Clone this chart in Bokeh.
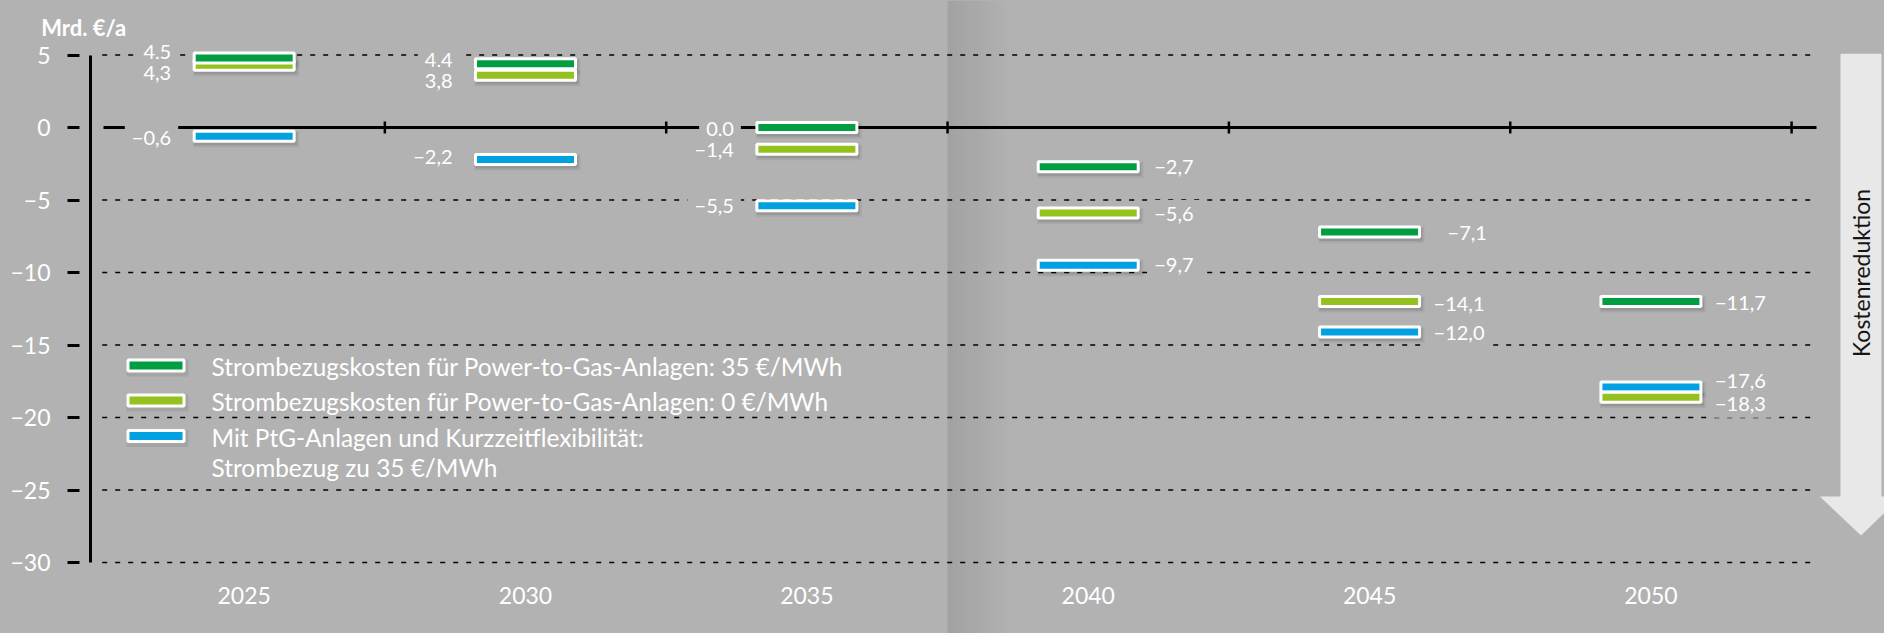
import math
from bokeh.plotting import figure
from bokeh.models import ColumnDataSource, Range1d, FixedTicker, LinearAxis, GlobalInlineStyleSheet
from bokeh.core.properties import value
from bokeh.transform import dodge
from bokeh.embed import file_html
from bokeh.resources import INLINE

# ---------------- data ----------------
years = ["2025", "2030", "2035", "2040", "2045", "2050"]
# bar positions (Mrd. EUR / a)
cost_ptg35 = [4.8, 4.4, 0.0, -2.7, -7.2, -12.0]
cost_ptg0 = [4.3, 3.6, -1.5, -5.9, -12.0, -18.6]
cost_flex35 = [-0.6, -2.2, -5.4, -9.5, -14.1, -17.9]
# value labels as printed in the picture
labels_ptg35 = ["4,5", "4,4", "0,0", "\u22122,7", "\u22127,1", "\u221211,7"]
labels_ptg0 = ["4,3", "3,8", "\u22121,4", "\u22125,6", "\u221214,1", "\u221218,3"]
labels_flex35 = ["\u22120,6", "\u22122,2", "\u22125,5", "\u22129,7", "\u221212,0", "\u221217,6"]
y_ticks = [5, 0, -5, -10, -15, -20, -25, -30]
y_tick_labels = ["5", "0", "\u22125", "\u221210", "\u221215", "\u221220", "\u221225", "\u221230"]
legend_labels = [
    "Strombezugskosten f\u00fcr Power-to-Gas-Anlagen: 35 \u20ac/MWh",
    "Strombezugskosten f\u00fcr Power-to-Gas-Anlagen: 0 \u20ac/MWh",
    "Mit PtG-Anlagen und Kurzzeitflexibilit\u00e4t:\nStrombezug zu 35 \u20ac/MWh",
]
y_title = "Mrd. \u20ac/a"
arrow_label = "Kostenreduktion"

# ---------------- style ----------------
BG = "#b2b2b2"
FONT = "Lato"
C_DG = "#009e40"
C_LG = "#95c11f"
C_BL = "#00a0e1"
W, H = 1884, 633
X0_PX, CAT_PX = 103.0, 281.35   # x of first category boundary, px per category
Y0_PX, UNIT_PX = 127.0, 14.5    # y of value 0, px per unit
AXIS_PX = 90                    # x of the value axis line


def X(px):
    return (px - X0_PX) / CAT_PX


def Y(py):
    return (Y0_PX - py) / UNIT_PX


p = figure(width=W, height=H, output_backend="svg", toolbar_location=None,
           x_range=Range1d(X(0), X(W)), y_range=Range1d(Y(H), Y(0)),
           x_axis_location=None, y_axis_location=None,
           min_border_left=0, min_border_right=0, min_border_top=0, min_border_bottom=0,
           background_fill_color=BG, border_fill_color=BG, outline_line_color=None)
p.stylesheets = [GlobalInlineStyleSheet(
    css="html, body { margin: 0; padding: 0; overflow: hidden; background-color: #b2b2b2; }")]
p.grid.grid_line_color = None

# value axis (drawn at a fixed x inside the plot area)
ya = LinearAxis(fixed_location=X(AXIS_PX))
ya.ticker = FixedTicker(ticks=y_ticks)
ya.major_label_overrides = {t: s for t, s in zip(y_ticks, y_tick_labels)}
ya.bounds = (min(y_ticks), max(y_ticks))
ya.axis_line_color = "black"
ya.axis_line_width = 3
ya.major_tick_line_color = "black"
ya.major_tick_line_width = 3
ya.major_tick_in = -11
ya.major_tick_out = 23
ya.minor_tick_line_color = None
ya.major_label_standoff = 17
ya.major_label_text_font = FONT
ya.major_label_text_font_size = "23px"
ya.major_label_text_color = "white"
p.add_layout(ya, "left")

n = len(years)

# shadow band at the 2035/2040 boundary
steps = 12
p.quad(left=[3 + k * 5 / CAT_PX for k in range(steps)],
       right=[3 + (k + 1) * 5 / CAT_PX for k in range(steps)],
       bottom=[Y(H)] * steps, top=[Y(0)] * steps,
       fill_color="black", fill_alpha=[0.085 * (1 - k / steps) for k in range(steps)],
       line_color=None)

# dashed grid lines
grid_vals = [t for t in y_ticks if t != 0]
p.segment(x0=[X(101.7)] * len(grid_vals), x1=[X(1816)] * len(grid_vals),
          y0=grid_vals, y1=grid_vals, line_color="black", line_width=1.6, line_dash="5 8")

# zero line with category boundary ticks
p.segment(x0=[0], x1=[X(1816)], y0=[0], y1=[0], line_color="black", line_width=3)
p.scatter(x=list(range(1, n + 1)), y=[0] * n, marker="dash", angle=math.pi / 2,
          size=12, line_color="black", line_width=2.5)

# value labels (with background boxes that interrupt the lines)
xc = [i + 0.5 for i in range(n)]
dx_left = -66
dx_right = {"dg": [59, 71, 57], "lg": [59, 57, 57], "bl": [59, 57, 57]}
dy = {"dg": [-5.5, -3.5, 1, 0, 1, 1], "lg": [8, 5.7, 1, 1, 2, 6.6], "bl": [2, -2, 0, 0, 1.5, -6.5]}
lab_series = [("dg", cost_ptg35, labels_ptg35), ("lg", cost_ptg0, labels_ptg0), ("bl", cost_flex35, labels_flex35)]
for key, vals, labs in lab_series:
    left = ColumnDataSource(dict(x=xc[:3], y=vals[:3], t=labs[:3], dx=[dx_left] * 3, dy=dy[key][:3]))
    right = ColumnDataSource(dict(x=xc[3:], y=vals[3:], t=labs[3:], dx=dx_right[key], dy=dy[key][3:]))
    for src, al in ((left, "right"), (right, "left")):
        p.text(x="x", y="y", text="t", x_offset="dx", y_offset="dy", source=src,
               text_align=al, text_baseline="middle", text_color="white",
               text_font=value(FONT), text_font_size="20px",
               background_fill_color=BG, padding=7)

# bars
series = [(cost_flex35, C_BL), (cost_ptg0, C_LG), (cost_ptg35, C_DG)]
sources = [ColumnDataSource(dict(x=xc, y=v)) for v, _ in series]
for src in sources:
    p.rect(x=dodge("x", 2 / CAT_PX), y=dodge("y", -3 / UNIT_PX), width=106, height=16,
           width_units="screen", height_units="screen", fill_color="black", fill_alpha=0.06,
           line_color=None, source=src)
    p.rect(x=dodge("x", 1.5 / CAT_PX), y=dodge("y", -2.5 / UNIT_PX), width=103, height=13,
           width_units="screen", height_units="screen", fill_color="black", fill_alpha=0.10,
           line_color=None, source=src)
for src, (_, col) in zip(sources, series):
    p.rect(x="x", y="y", width=100, height=10, width_units="screen", height_units="screen",
           fill_color=col, line_color="white", line_width=3, source=src)

# category labels
p.text(x=xc, y=[Y(595)] * n, text=years, text_align="center", text_baseline="middle",
       text_color="white", text_font=value(FONT), text_font_size="23px")

# legend (drawn)
leg_y = [365, 400, 435.5]
leg_cols = [C_DG, C_LG, C_BL]
p.rect(x=[X(157)] * 3, y=[Y(v + 2.5) for v in leg_y], width=62, height=17,
       width_units="screen", height_units="screen", fill_color="black", fill_alpha=0.08, line_color=None)
p.rect(x=[X(155.5)] * 3, y=[Y(v) for v in leg_y], width=56, height=11,
       width_units="screen", height_units="screen", fill_color=leg_cols, line_color="white", line_width=3)
lx, ly, lt = [], [], []
for row, lab in zip(leg_y, legend_labels):
    for j, line in enumerate(lab.split("\n")):
        lx.append(X(211))
        ly.append(Y(row + 1 + 30 * j))
        lt.append(line)
p.text(x=lx, y=ly, text=lt, text_align="left", text_baseline="middle", text_color="white",
       text_font=value(FONT), text_font_size="24.4px")

# arrow "Kostenreduktion"
ax = [1840, 1881, 1881, 1901, 1860.5, 1819.3, 1840]
ay = [53.3, 53.3, 496, 496, 535, 496, 496]
p.patch(x=[X(v) for v in ax], y=[Y(v) for v in ay], fill_color="#e8e8e8", line_color=None)
p.text(x=[X(1860.5)], y=[Y(272.5)], text=[arrow_label], angle=math.pi / 2,
       text_align="center", text_baseline="middle", text_color="#151515",
       text_font=value(FONT), text_font_size="23px")

# axis title
p.text(x=[X(40.7)], y=[Y(26.5)], text=[y_title], text_align="left", text_baseline="alphabetic",
       text_color="white", text_font=value(FONT), text_font_style="bold", text_font_size="22px")

open("out.html", "w").write(file_html(p, INLINE))
